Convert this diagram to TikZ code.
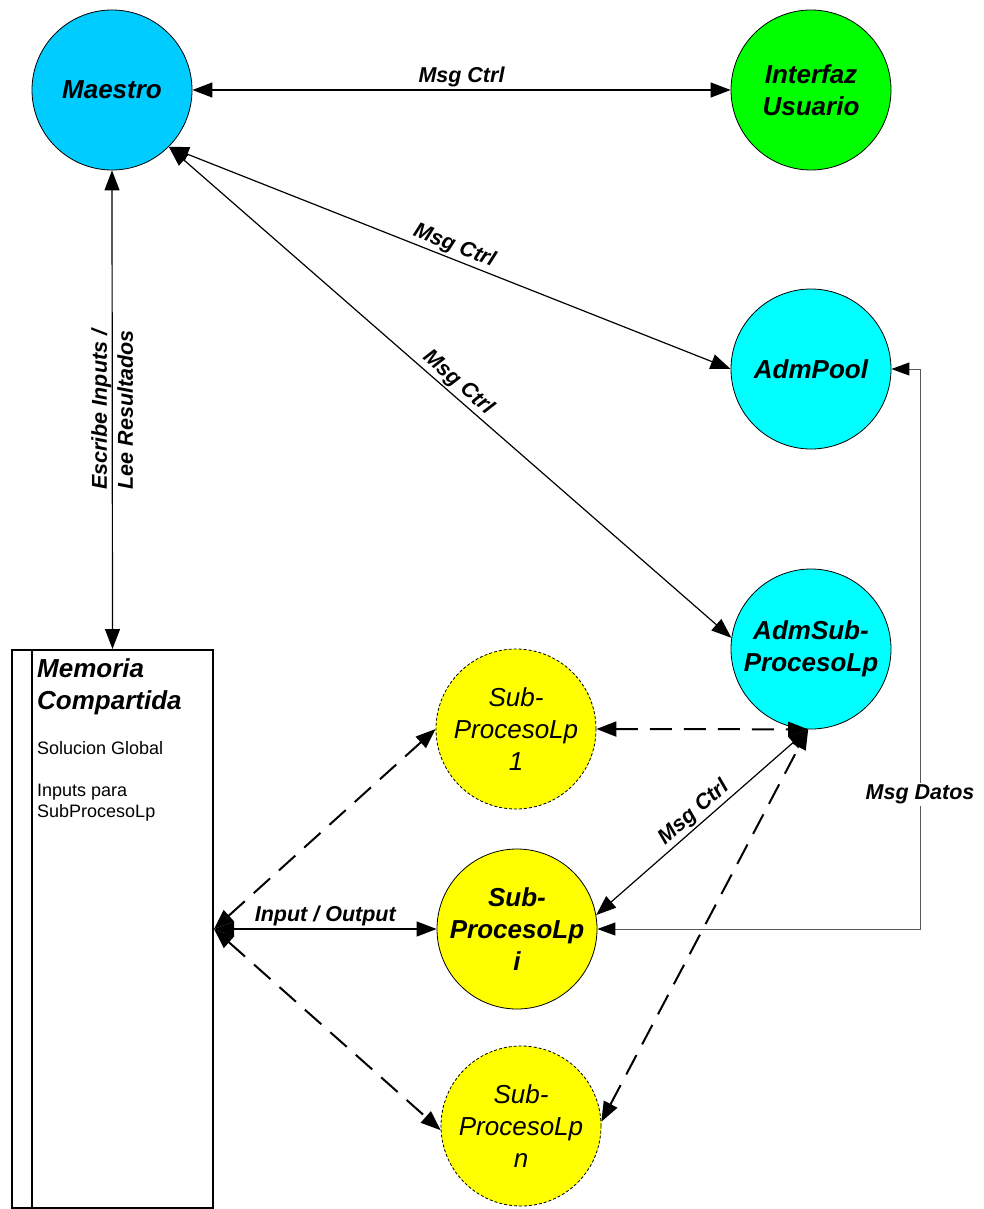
\documentclass[tikz,border=0pt]{standalone}
\usepackage{fontspec}
\setmainfont{Liberation Sans}
\usetikzlibrary{arrows.meta,calc}
\definecolor{maestroblue}{HTML}{00CCFF}
\definecolor{ifgreen}{HTML}{00FF00}
\definecolor{admcyan}{HTML}{00FFFF}
\definecolor{subyellow}{HTML}{FFFF00}
\tikzset{
 proc/.style={circle, draw=black, line width=0.8pt, minimum size=160pt, inner sep=0pt, align=center,
   font=\fontsize{26}{32}\selectfont\bfseries\itshape},
 subdash/.style={proc, fill=subyellow, dash pattern=on 3pt off 2pt,
   font=\fontsize{26}{32}\selectfont\itshape},
 tip/.tip={Triangle[length=20pt,width=15pt]},
 dtip/.tip={Triangle[length=18pt,width=13pt,color=black]},
 conn/.style={line width=1.2pt, tip-tip},
 dconn/.style={line width=2pt, dash pattern=on 22pt off 12pt, tip-tip},
 datos/.style={line width=1pt, draw=black!65, dtip-dtip},
 lbl/.style={font=\fontsize{21.5}{26}\selectfont\bfseries\itshape, inner sep=2pt, text=black},
}
\begin{document}
\begin{tikzpicture}[x=1pt,y=-1pt]
\useasboundingbox (0,0) rectangle (983,1209);

\node[proc, fill=maestroblue] (maestro) at (112,90) {Maestro};
\node[proc, fill=ifgreen] (interfaz) at (811,90) {Interfaz\\Usuario};
\node[proc, fill=admcyan] (admpool) at (811,369) {AdmPool};
\node[proc, fill=admcyan] (admsub) at (811,649) {AdmSub-\\ProcesoLp};
\node[subdash] (sub1) at (516,729) {Sub-\\ProcesoLp\\1};
\node[proc, fill=subyellow] (subi) at (517,929) {Sub-\\ProcesoLp\\i};
\node[subdash] (subn) at (521,1126) {Sub-\\ProcesoLp\\n};

\node[draw, line width=2pt, minimum width=201pt, minimum height=558pt, inner sep=0pt, anchor=north west] (mem) at (11,649) {};
\draw[line width=2pt] ($(mem.north west)+(21,0)$) coordinate (memin) -- (memin |- mem.south);
\node[anchor=north west, align=left, inner sep=0pt, font=\fontsize{26}{32}\selectfont\bfseries\itshape] (memtitle) at (37,658) {Memoria\\Compartida};
\node[anchor=north west, align=left, inner sep=0pt, font=\fontsize{18}{20.5}\selectfont] (membody) at (37,741) {Solucion Global\\[22pt]Inputs para\\SubProcesoLp};

% connectors
\draw[conn] (maestro.east) -- node[lbl, above] {Msg Ctrl} (interfaz.west);
\draw[conn] (maestro.-45) -- node[lbl, above, sloped] {Msg Ctrl} (admpool.west);
\draw[conn] (maestro.-45) -- node[lbl, above, sloped] {Msg Ctrl} (admsub.172);
\draw[conn] (maestro.south) -- node[lbl, rotate=90, align=center] {Escribe Inputs /\\Lee Resultados} (mem.north);

\coordinate (memr) at (mem.east |- subi.west);
\coordinate (admb) at (admsub.-92);
\draw[dconn] (sub1.east) -- (admb);
\draw[conn] (subi.10) -- node[lbl, above, sloped] {Msg Ctrl} (admb);
\draw[dconn] (subn.3) -- (admb);
\draw[conn] (memr) -- node[lbl, above] {Input / Output} (subi.west);
\draw[dconn] (memr) -- (sub1.west);
\draw[dconn] (memr) -- (subn.183);

\coordinate (dcol) at (920,0);
\draw[datos] (subi.east) -- (subi.east -| dcol) -- node[lbl, fill=white, pos=0.24] {Msg Datos} (admpool.east -| dcol) -- (admpool.east);
\end{tikzpicture}
\end{document}
